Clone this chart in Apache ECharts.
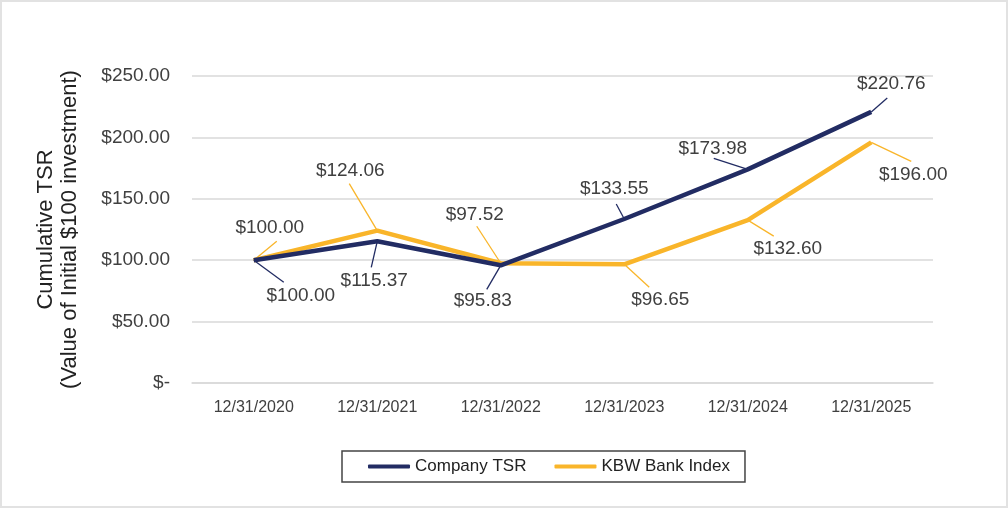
<!DOCTYPE html>
<html>
<head>
<meta charset="utf-8">
<script src="https://cdn.jsdelivr.net/npm/echarts@6/dist/echarts.min.js"></script>
<style>
html,body{margin:0;padding:0;background:#fff;}
#c{width:1008px;height:508px;box-sizing:border-box;border:2px solid #e2e2e2;}
</style>
</head>
<body>
<div id="c"></div>
<script>
const categories = ['12/31/2020','12/31/2021','12/31/2022','12/31/2023','12/31/2024','12/31/2025'];
const companyTSR = [100.00, 115.37, 95.83, 133.55, 173.98, 220.76];
const kbwIndex = [100.00, 124.06, 97.52, 96.65, 132.60, 196.00];
const seriesNames = ['Company TSR', 'KBW Bank Index'];
const yTicks = [0, 50, 100, 150, 200, 250];

// label placement, pixels relative to each data point: [labelDx, labelDy, leaderDx, leaderDy]
const companyLabelPos = [[47,36,30,22],[-3,39,-6,26],[-18,35,-14,24],[-10,-30,-8,-15],[-35,-21,-34,-11],[20,-28,16,-14]];
const kbwLabelPos = [[16,-32,23,-19],[-27,-60,-28,-47],[-26,-48,-24,-37],[36,35,25,23],[40,29,26,16],[42,32,40,19]];

const navy = '#222c63';
const gold = '#f9b52a';
const textColor = '#404040';
const fontFamily = 'Liberation Sans, Arial, sans-serif';

function fmt(v){ return v === 0 ? '$-' : '$' + v.toFixed(2); }

const chart = echarts.init(document.getElementById('c'), null, {renderer:'canvas'});

function lineSeries(name, data, color, z){
  return {
    name: name,
    type: 'line',
    data: data,
    symbol: 'none',
    lineStyle: {color: color, width: 4.5},
    itemStyle: {color: color},
    z: z
  };
}

function labelSeries(name, data, color, pos){
  return {
    name: name + ' labels',
    type: 'custom',
    data: data.map((v, i) => [i, v]),
    encode: {x: 0, y: 1},
    z: 1,
    silent: true,
    renderItem: function(params, api){
      const i = params.dataIndex;
      const v = api.value(1);
      const p = api.coord([api.value(0), v]);
      const o = pos[i];
      return {
        type: 'group',
        children: [
          {type: 'line', shape: {x1: p[0], y1: p[1], x2: p[0] + o[2], y2: p[1] + o[3]},
           style: {stroke: color, lineWidth: 1.3}},
          {type: 'text', x: p[0] + o[0], y: p[1] + o[1],
           style: {text: fmt(v), fill: textColor, font: '19px ' + fontFamily,
                   align: 'center', verticalAlign: 'middle'}}
        ]
      };
    }
  };
}

chart.setOption({
  animation: false,
  textStyle: {fontFamily: fontFamily, color: textColor},
  grid: {left: 190, right: 73, top: 74, bottom: 123},
  legend: {
    data: seriesNames.map(n => ({name: n, icon: 'roundRect'})),
    left: 340, top: 449,
    itemWidth: 42, itemHeight: 4, itemGap: 28,
    padding: [7, 15, 7, 26],
    borderColor: '#444', borderWidth: 1.5,
    textStyle: {fontSize: 17, color: '#222', fontFamily: fontFamily}
  },
  xAxis: {
    type: 'category',
    data: categories,
    boundaryGap: true,
    axisLine: {show: true, lineStyle: {color: '#d9d9d9', width: 1.5}},
    axisTick: {show: false},
    axisLabel: {color: textColor, fontSize: 16, margin: 17, fontFamily: fontFamily}
  },
  yAxis: {
    type: 'value',
    min: 0, max: 250, interval: 50,
    name: 'Cumulative TSR\n(Value of Initial $100 investment)',
    nameLocation: 'middle',
    nameGap: 110,
    nameRotate: 90,
    nameTextStyle: {fontSize: 22, color: '#222', lineHeight: 24, fontFamily: fontFamily},
    axisLine: {show: false},
    axisTick: {show: false},
    splitLine: {lineStyle: {color: '#d9d9d9', width: 1.5}},
    axisLabel: {
      color: textColor, fontSize: 19, margin: 22, fontFamily: fontFamily,
      formatter: v => yTicks.includes(v) ? fmt(v) : ''
    }
  },
  series: [
    labelSeries(seriesNames[1], kbwIndex, gold, kbwLabelPos),
    labelSeries(seriesNames[0], companyTSR, navy, companyLabelPos),
    lineSeries(seriesNames[1], kbwIndex, gold, 2),
    lineSeries(seriesNames[0], companyTSR, navy, 3)
  ]
});
</script>
</body>
</html>
